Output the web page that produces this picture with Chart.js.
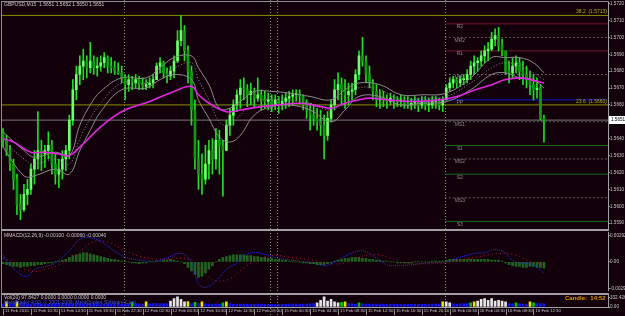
<!DOCTYPE html>
<html>
<head>
<meta charset="utf-8">
<script src="https://cdn.jsdelivr.net/npm/chart.js@4.4.1/dist/chart.umd.min.js"></script>
<style>
  html, body { margin: 0; padding: 0; background: #12000a; }
  #wrap { position: relative; width: 625px; height: 316px; background: #12000a; overflow: hidden; }
  canvas { position: absolute; left: 0; }
</style>
</head>
<body>
<div id="wrap">
  <canvas id="price" width="625" height="231" style="top:0px"></canvas>
  <canvas id="macd" width="625" height="63" style="top:230px"></canvas>
  <canvas id="vol" width="625" height="23" style="top:293px"></canvas>
</div>
<script>
// GBPUSD M15-style bars, one entry per bar (open = previous close)
const highs = [
  1.5646,1.5642,1.5636,1.5628,1.5619,1.5607,1.5613,1.5616,1.5625,1.5633,
  1.5656,1.5639,1.5636,1.5644,1.5639,1.5631,1.5628,1.5633,1.5636,1.5654,
  1.5675,1.5683,1.5689,1.5693,1.5689,1.5697,1.5689,1.5688,1.5689,1.5691,
  1.5689,1.5688,1.5686,1.5685,1.5683,1.5678,1.5678,1.5677,1.5678,1.5677,
  1.5676,1.5675,1.5676,1.5678,1.5685,1.5688,1.5686,1.5682,1.5683,1.5689,
  1.5704,1.5713,1.5707,1.5695,1.5683,1.5663,1.5639,1.5631,1.5636,1.5639,
  1.5640,1.5646,1.5645,1.5639,1.5651,1.5658,1.5663,1.5669,1.5675,1.5676,
  1.5672,1.5673,1.5670,1.5676,1.5669,1.5668,1.5667,1.5666,1.5666,1.5665,
  1.5666,1.5667,1.5668,1.5669,1.5669,1.5669,1.5666,1.5663,1.5661,1.5660,
  1.5658,1.5657,1.5654,1.5656,1.5663,1.5675,1.5679,1.5676,1.5675,1.5673,
  1.5673,1.5681,1.5692,1.5700,1.5689,1.5683,1.5675,1.5672,1.5669,1.5668,
  1.5666,1.5667,1.5666,1.5665,1.5666,1.5665,1.5665,1.5664,1.5665,1.5664,
  1.5665,1.5665,1.5664,1.5665,1.5665,1.5664,1.5665,1.5672,1.5676,1.5677,
  1.5676,1.5677,1.5678,1.5681,1.5686,1.5689,1.5688,1.5692,1.5695,1.5697,
  1.5703,1.5705,1.5706,1.5699,1.5692,1.5686,1.5688,1.5689,1.5688,1.5686,
  1.5683,1.5680,1.5678,1.5676,1.5672,1.5654
];
const lows = [
  1.5635,1.5630,1.5621,1.5610,1.5595,1.5592,1.5597,1.5601,1.5607,1.5613,
  1.5622,1.5621,1.5623,1.5628,1.5619,1.5613,1.5611,1.5616,1.5621,1.5628,
  1.5648,1.5663,1.5672,1.5675,1.5676,1.5679,1.5678,1.5677,1.5680,1.5682,
  1.5679,1.5679,1.5678,1.5678,1.5673,1.5663,1.5668,1.5669,1.5670,1.5669,
  1.5669,1.5669,1.5670,1.5670,1.5675,1.5679,1.5676,1.5673,1.5675,1.5676,
  1.5685,1.5695,1.5686,1.5673,1.5648,1.5622,1.5610,1.5607,1.5613,1.5616,
  1.5619,1.5622,1.5619,1.5606,1.5633,1.5642,1.5648,1.5656,1.5658,1.5663,
  1.5659,1.5660,1.5659,1.5662,1.5657,1.5658,1.5657,1.5656,1.5657,1.5655,
  1.5657,1.5658,1.5659,1.5660,1.5662,1.5661,1.5657,1.5652,1.5645,1.5648,
  1.5645,1.5642,1.5628,1.5639,1.5650,1.5657,1.5663,1.5660,1.5658,1.5660,
  1.5663,1.5666,1.5675,1.5683,1.5673,1.5670,1.5663,1.5659,1.5658,1.5659,
  1.5658,1.5660,1.5658,1.5659,1.5659,1.5658,1.5658,1.5657,1.5658,1.5656,
  1.5658,1.5657,1.5656,1.5658,1.5658,1.5657,1.5656,1.5663,1.5668,1.5670,
  1.5670,1.5671,1.5672,1.5673,1.5675,1.5678,1.5680,1.5683,1.5685,1.5686,
  1.5692,1.5695,1.5692,1.5689,1.5678,1.5673,1.5676,1.5679,1.5675,1.5672,
  1.5670,1.5666,1.5663,1.5664,1.5651,1.5638
];
const closes = [
  1.5639,1.5633,1.5625,1.5616,1.5601,1.5598,1.5607,1.5610,1.5622,1.5628,
  1.5633,1.5631,1.5633,1.5636,1.5625,1.5619,1.5622,1.5628,1.5633,1.5651,
  1.5669,1.5678,1.5683,1.5686,1.5682,1.5686,1.5682,1.5683,1.5685,1.5688,
  1.5683,1.5682,1.5680,1.5679,1.5676,1.5672,1.5675,1.5673,1.5675,1.5672,
  1.5671,1.5672,1.5673,1.5675,1.5683,1.5685,1.5679,1.5677,1.5680,1.5686,
  1.5698,1.5704,1.5692,1.5680,1.5657,1.5628,1.5619,1.5616,1.5625,1.5633,
  1.5628,1.5639,1.5636,1.5633,1.5648,1.5654,1.5660,1.5666,1.5670,1.5669,
  1.5666,1.5668,1.5664,1.5666,1.5663,1.5662,1.5663,1.5660,1.5663,1.5660,
  1.5662,1.5664,1.5665,1.5666,1.5666,1.5665,1.5660,1.5657,1.5654,1.5652,
  1.5650,1.5648,1.5642,1.5652,1.5660,1.5669,1.5672,1.5669,1.5666,1.5668,
  1.5669,1.5678,1.5689,1.5686,1.5678,1.5673,1.5668,1.5663,1.5664,1.5663,
  1.5662,1.5664,1.5663,1.5662,1.5663,1.5661,1.5660,1.5661,1.5662,1.5660,
  1.5662,1.5660,1.5660,1.5662,1.5662,1.5660,1.5663,1.5670,1.5673,1.5675,
  1.5673,1.5675,1.5675,1.5678,1.5683,1.5685,1.5686,1.5689,1.5692,1.5693,
  1.5699,1.5701,1.5695,1.5692,1.5680,1.5679,1.5683,1.5685,1.5680,1.5678,
  1.5675,1.5672,1.5669,1.5670,1.5652,1.5651
];
const firstOpen = 1.5644;
const lastPrice = 1.5651;

// slow MA (magenta) and envelope (gray), bar index -> price
const maIdx = [0,3,8,12,16,19,22,28,34,42,49,54,56,59,64,68,74,79,85,91,94,98,102,105,110,117,125,130,134,140,144,148,151,155];
const maVals = [1.5640,1.5638,1.5632,1.5632,1.5631,1.5630,1.5635,1.5647,1.5656,1.5662,1.5668,1.5671,1.5666,1.5661,1.5656,1.5657,1.5659,1.5660,1.5661,1.5659,
  1.5658,1.5661,1.5663,1.5664,1.5663,1.5662,1.5663,1.5665,1.5668,1.5672,1.5675,1.5676,1.5675,1.5673];
const bandIdx = [0,6,9,15,19,22,25,28,34,41,45,49,54,56,59,62,65,68,72,77,82,88,94,98,102,108,114,120,127,134,140,144,148,152,155];
const bandUp = [1.5644,1.5633,1.5629,1.5632,1.5630,1.5648,1.5660,1.5668,1.5676,1.5676,1.5682,1.5688,1.5689,1.5682,1.5672,1.5658,1.5658,1.5662,1.5668,1.5668,
  1.5667,1.5665,1.5663,1.5669,1.5673,1.5672,1.5666,1.5666,1.5667,1.5676,1.5688,1.5688,1.5688,1.5685,1.5679];
const bandMid = [1.5639,1.5628,1.5625,1.5628,1.5625,1.5640,1.5652,1.5661,1.5673,1.5673,1.5679,1.5682,1.5685,1.5675,1.5663,1.5650,1.5648,1.5654,1.5662,1.5663,
  1.5663,1.5661,1.5657,1.5663,1.5670,1.5669,1.5663,1.5664,1.5665,1.5673,1.5682,1.5685,1.5683,1.5679,1.5675];
const bandLow = [1.5635,1.5618,1.5618,1.5622,1.5619,1.5633,1.5645,1.5656,1.5669,1.5670,1.5675,1.5678,1.5675,1.5663,1.5652,1.5641,1.5638,1.5642,1.5654,1.5659,
  1.5660,1.5657,1.5650,1.5657,1.5665,1.5665,1.5660,1.5661,1.5662,1.5669,1.5678,1.5679,1.5676,1.5675,1.5670];

// pivots for 16 Feb, fibo levels
const pivotNames = ['R2','MR2','R1','MR1','PP','MS1','S1','MS2','S2','MS3','S3'];
const pivotVals = [1.5708,1.5700,1.5692,1.5678,1.5663,1.5650,1.5636,1.5628,1.5619,1.5605,1.5591];
const fibNames = ['38.2','23.6'];
const fibVals = [1.5713,1.5660];
const priceTicks = [1.5720,1.5710,1.5700,1.5690,1.5680,1.5670,1.5660,1.5650,1.5640,1.5630,1.5620,1.5610,1.5600,1.5590];

// MACD panel
const macdHist = [
  -0.0002,-0.0003,-0.0004,-0.0005,-0.0005,-0.0006,-0.0005,-0.0005,-0.0004,-0.0004,-0.0003,-0.0003,
  -0.0002,-0.0001,-0.0001,0,0.0001,0.0002,
  0.0003,0.0005,0.0007,0.0008,0.0009,0.0010,0.0010,0.0009,0.0008,0.0007,0.0006,
  0.0005,0.0004,0.0003,0.0003,0.0002,0.0001,
  0.0001,0,-0.0001,-0.0001,-0.0002,-0.0001,-0.0001,0,0,0.0001,0.0001,0.0002,0.0002,0.0003,
  0.0002,0.0001,0,-0.0002,-0.0006,-0.0010,-0.0014,-0.0017,
  -0.0016,-0.0012,-0.0008,
  -0.0004,0,0.0003,0.0005,0.0006,0.0007,0.0008,0.0008,
  0.0008,0.0008,0.0007,0.0007,0.0006,0.0006,0.0005,0.0005,0.0004,0.0004,0.0003,0.0003,0.0002,
  0.0002,0.0001,0.0001,0,0,-0.0001,-0.0001,-0.0002,-0.0002,-0.0003,-0.0003,-0.0003,-0.0002,-0.0001,
  0.0001,0.0002,0.0003,0.0004,0.0004,0.0005,0.0005,0.0005,0.0004,0.0004,0.0003,0.0003,0.0002,0.0002,0.0001,0.0001,0,0,-0.0001,-0.0001,-0.0001,
  -0.0001,-0.0001,0,0,0,0,0,0.0001,0.0001,0.0001,0.0001,
  0.0002,0.0003,0.0003,0.0003,0.0003,0.0003,0.0003,0.0003,0.0003,0.0003,0.0003,0.0003,0.0003,0.0002,0.0002,0.0002,0.0001,
  -0.0001,-0.0003,-0.0004,-0.0005,-0.0005,-0.0006,-0.0006,-0.0005,-0.0005,-0.0006,-0.0006,-0.0007
];
const macdIdx = [0,2,5,7,9,14,16,19,22,24,28,31,34,36,42,46,51,54,55,56,58,61,64,67,69,72,75,79,85,89,92,94,97,99,102,104,107,110,112,117,122,127,130,132,135,138,141,144,145,147,150,152,155];
const macdVals = [0.00073,-0.00031,-0.00136,-0.00156,-0.00083,-0.00031,0.00021,0.00125,0.00250,0.00271,0.00229,0.00146,0.00073,0.00042,0.00010,0.00031,0.00094,0,-0.00136,-0.00240,
  -0.00282,-0.00209,-0.00083,-0.00010,0.00073,0.00104,0.00083,0.00042,0.00010,-0.00010,-0.00042,-0.00021,0.00042,0.00083,0.00125,0.00115,0.00042,-0.00031,-0.00042,-0.00031,
  -0.00010,0,0.00042,0.00063,0.00094,0.00104,0.00136,0.00104,0.00052,0,-0.00021,-0.00031,-0.00125];
const sigIdx = [0,3,8,12,16,21,25,29,34,39,45,51,55,58,61,65,69,74,78,82,88,94,98,102,107,111,115,121,127,131,137,142,147,151,155];
const sigVals = [0.00042,0,-0.00104,-0.00083,-0.00031,0.00073,0.00209,0.00229,0.00146,0.00063,0.00031,0.00042,0,-0.00136,-0.00209,-0.00188,-0.00063,0.00042,0.00073,0.00052,
  0.00021,-0.00021,-0.00010,0.00052,0.00083,0.00042,-0.00010,-0.00021,-0.00010,0.00021,0.00063,0.00094,0.00073,0.00010,-0.00031];
const macdTicks = [0.00292, 0, -0.00292];

// volume panel
const volumes = [
  105,180,114,108,180,120,114,105,111,120,
  126,114,105,108,102,114,120,126,114,108,
  120,126,114,108,105,102,108,114,105,102,
  99,105,108,102,96,105,114,165,120,114,
  108,180,114,120,126,114,120,126,210,300,
  360,270,180,195,126,165,120,180,114,108,
  105,102,108,150,180,114,105,102,99,105,
  102,99,96,102,105,99,96,93,90,96,
  102,99,105,108,102,99,105,108,114,120,
  150,240,360,210,270,180,150,165,180,120,
  114,108,150,114,108,105,102,99,105,102,
  99,96,102,99,96,93,99,96,102,99,
  96,102,99,105,102,108,180,180,150,114,
  108,114,120,126,150,180,210,270,300,240,
  300,210,240,210,180,120,114,150,114,108,
  114,180,150,120,126,114
];
const volWhite = [48,49,50,51,52,90,91,92,93,94,95,96,127,128,136,137,138,139,140,141,142,143,144];
const volYellow = [1,4,41,53,57,64,98,126,135,151];
const volGreen = [37,55,63,97,102,134,147,152];
const volTicks = [332.426, 0];

const timeTickIdx = [0,8,16,24,32,40,48,56,64,72,80,88,96,104,112,120,128,136,144,152];
const timeLabels = ['11 Feb 2010','11 Feb 10:30','11 Feb 14:30','11 Feb 18:30','11 Feb 22:30','12 Feb 02:30','12 Feb 06:30',
  '12 Feb 10:30','12 Feb 14:30','12 Feb 18:30','15 Feb 00:30','15 Feb 04:30','15 Feb 08:30','15 Feb 12:30','15 Feb 16:30',
  '15 Feb 20:30','16 Feb 00:30','16 Feb 04:30','16 Feb 08:30','16 Feb 12:30'];
const dayLines = [34.6, 76.5, 78.5, 126.6];
const pivotStart = 126.6;
const ppStart = 116.6;

const X_MIN = -0.29, X_MAX = 173.35;
const FONT = 'Liberation Sans';
const AXIS_W = 17;
const GRAY = '#a0a0a0';
const TXT = '#c8c8c8';

Chart.defaults.font.family = FONT;
Chart.defaults.animation = false;

function xScale() {
  return { type: 'linear', min: X_MIN, max: X_MAX, display: false, offset: false };
}
function rightAxis(min, max, ticks, fmt) {
  return {
    position: 'right', min: min, max: max,
    afterFit: s => { s.width = AXIS_W; },
    afterBuildTicks: s => { s.ticks = ticks.map(v => ({ value: v })); },
    ticks: { color: TXT, font: { size: 4.6 }, padding: 0, callback: fmt },
    grid: { drawOnChartArea: false, tickLength: 2, color: GRAY },
    border: { color: GRAY }
  };
}
function pts(idx, vals) {
  return idx.map((x, k) => ({ x: x, y: vals[k] }));
}
function hline(v, x0, color, dash) {
  return { type: 'line', data: [{ x: x0, y: v }, { x: X_MAX, y: v }], borderColor: color, borderWidth: 1,
    borderDash: dash || [], pointRadius: 0, order: 10 };
}
function smooth(idx, vals, color, width, dash) {
  return { type: 'line', data: pts(idx, vals), borderColor: color, borderWidth: width, borderDash: dash || [],
    pointRadius: 0, tension: 0.4, order: 1 };
}

const dayLinePlugin = {
  id: 'dayLines',
  beforeDatasetsDraw(chart) {
    const ctx = chart.ctx, xs = chart.scales.x;
    ctx.save();
    ctx.strokeStyle = '#8a8a8a';
    ctx.setLineDash([1, 2]);
    ctx.lineWidth = 1;
    dayLines.forEach(v => {
      const x = Math.round(xs.getPixelForValue(v)) + 0.5;
      ctx.beginPath();
      ctx.moveTo(x, 0);
      ctx.lineTo(x, chart.height);
      ctx.stroke();
    });
    ctx.restore();
  }
};

// ---------- price panel ----------
const opens = closes.map((c, i) => i === 0 ? firstOpen : closes[i - 1]);
const wickData = highs.map((h, i) => ({ x: i, y: [lows[i], h] }));
const bodyData = closes.map((c, i) => ({ x: i, y: [opens[i], c] }));
const bodyColors = closes.map((c, i) => c >= opens[i] ? '#6cff6c' : '#0c9c0c');

const pivotDatasets = pivotNames.map((n, k) => {
  const v = pivotVals[k];
  if (n === 'PP') return hline(v, ppStart, '#1414d2');
  if (n.startsWith('M')) return hline(v, pivotStart, '#5e5e5e', [2, 2]);
  if (n.startsWith('R')) return hline(v, pivotStart, '#781028');
  return hline(v, pivotStart, '#186c18');
});

const priceTextPlugin = {
  id: 'priceText',
  afterDraw(chart) {
    const ctx = chart.ctx, xs = chart.scales.x, ys = chart.scales.y;
    ctx.save();
    // frame
    ctx.fillStyle = '#8c8c8c';
    ctx.fillRect(1, 1, 608, 1);
    ctx.fillRect(1, 1, 1, 230);
    ctx.fillStyle = GRAY;
    ctx.fillRect(1, 229, 608, 2);
    ctx.font = '5px ' + FONT;
    ctx.textBaseline = 'middle';
    ctx.fillStyle = TXT;
    ctx.textAlign = 'left';
    ctx.fillText('GBPUSD,M15  1.5651 1.5652 1.5650 1.5651', 4, 5);
    // pivot labels
    ctx.fillStyle = '#8a8a8a';
    ctx.textAlign = 'center';
    const lx = xs.getPixelForValue(pivotStart) + 15;
    pivotNames.forEach((n, k) => {
      ctx.fillText(n, lx, ys.getPixelForValue(pivotVals[k]) + 3);
    });
    // fibo labels
    ctx.fillStyle = '#b4b400';
    ctx.textBaseline = 'bottom';
    fibNames.forEach((n, k) => {
      const y = ys.getPixelForValue(fibVals[k]) - 1;
      ctx.textAlign = 'left';
      ctx.fillText(n, 576, y);
      ctx.textAlign = 'right';
      ctx.fillText('(' + fibVals[k].toFixed(4) + ')', 607, y);
    });
    // last price box
    const py = Math.round(ys.getPixelForValue(lastPrice));
    ctx.fillStyle = '#ffffff';
    ctx.fillRect(609, py - 4, 16, 8);
    ctx.fillStyle = '#000000';
    ctx.textAlign = 'left';
    ctx.textBaseline = 'middle';
    ctx.font = '4.6px ' + FONT;
    ctx.fillText(lastPrice.toFixed(4), 611, py);
    ctx.restore();
  }
};

new Chart(document.getElementById('price'), {
  type: 'bar',
  data: {
    datasets: [
      smooth(maIdx, maVals, '#e028e0', 1.6),
      smooth(bandIdx, bandUp, '#8c8c8c', 1),
      smooth(bandIdx, bandMid, '#8c8c8c', 1, [1, 2]),
      smooth(bandIdx, bandLow, '#8c8c8c', 1),
      { type: 'bar', data: bodyData, backgroundColor: bodyColors, barThickness: 2, minBarLength: 1, grouped: false, order: 4 },
      { type: 'bar', data: wickData, backgroundColor: '#1ee01e', barThickness: 1, grouped: false, order: 5 },
      hline(lastPrice, X_MIN, '#7c7c7c'),
      hline(fibVals[0], X_MIN, '#8c8c00'),
      hline(fibVals[1], X_MIN, '#8c8c00'),
      ...pivotDatasets
    ]
  },
  options: {
    responsive: false,
    events: [],
    layout: { padding: { left: 2, top: 2, bottom: 2, right: 0 } },
    plugins: { legend: { display: false }, tooltip: { enabled: false } },
    scales: {
      x: xScale(),
      y: rightAxis(1.558697, 1.57205, priceTicks, v => v.toFixed(4))
    }
  },
  plugins: [dayLinePlugin, priceTextPlugin]
});

// ---------- MACD panel ----------
const macdTextPlugin = {
  id: 'macdText',
  afterDraw(chart) {
    const ctx = chart.ctx;
    ctx.save();
    ctx.fillStyle = '#8c8c8c';
    ctx.fillRect(1, 0, 1, 63);
    ctx.font = '5px ' + FONT;
    ctx.fillStyle = TXT;
    ctx.textBaseline = 'middle';
    ctx.fillText('MMACD(12,26,9) -0.00100 -0.00060 -0.00040', 4, 6);
    ctx.restore();
  }
};

new Chart(document.getElementById('macd'), {
  type: 'bar',
  data: {
    datasets: [
      { type: 'line', data: pts(macdIdx, macdVals), borderColor: '#2832ff', borderWidth: 1, borderDash: [1, 1],
        pointRadius: 0, tension: 0.4, order: 1 },
      { type: 'line', data: pts(sigIdx, sigVals), borderColor: '#c0103c', borderWidth: 1, borderDash: [1, 3],
        pointRadius: 0, tension: 0.4, order: 2 },
      { type: 'bar', data: macdHist.map((v, i) => ({ x: i, y: v })), backgroundColor: '#1e641e', barThickness: 2, order: 3 }
    ]
  },
  options: {
    responsive: false,
    events: [],
    layout: { padding: { left: 2, top: 1, bottom: 1, right: 0 } },
    plugins: { legend: { display: false }, tooltip: { enabled: false } },
    scales: {
      x: xScale(),
      y: rightAxis(-0.00313, 0.00323, macdTicks, v => v === 0 ? '0.00' : v.toFixed(5))
    }
  },
  plugins: [dayLinePlugin, macdTextPlugin]
});

// ---------- volume panel + time axis ----------
const volColors = volumes.map((v, i) =>
  volWhite.includes(i) ? '#e6e6e6' : volYellow.includes(i) ? '#e6e600' : volGreen.includes(i) ? '#00c800' : '#1414f0');

const volTextPlugin = {
  id: 'volText',
  afterDraw(chart) {
    const ctx = chart.ctx, xs = chart.scales.x;
    ctx.save();
    ctx.fillStyle = GRAY;
    ctx.fillRect(1, 0, 608, 2);
    ctx.fillStyle = '#8c8c8c';
    ctx.fillRect(1, 0, 1, 15);
    // tick marks of the time axis
    ctx.fillStyle = '#909090';
    timeTickIdx.forEach(v => {
      ctx.fillRect(Math.round(xs.getPixelForValue(v)), 16, 1, 6);
    });
    ctx.font = '5px ' + FONT;
    ctx.textBaseline = 'middle';
    ctx.fillStyle = TXT;
    ctx.fillText('Vol(20) 97.8427 0.0000 0.0000 0.0000 0.0000', 4, 5);
    ctx.fillStyle = '#3c50ff';
    ctx.fillText('MetaTrader 4.00  \u00a9 2001-2009, MetaQuotes Software Corp.', 4, 10);
    ctx.font = 'bold 6px ' + FONT;
    ctx.fillStyle = '#e69a00';
    ctx.fillText('Candle:  14:52', 565, 5);
    ctx.restore();
  }
};

new Chart(document.getElementById('vol'), {
  type: 'bar',
  data: {
    datasets: [
      { type: 'bar', data: volumes.map((v, i) => ({ x: i, y: v })), backgroundColor: volColors, barThickness: 2 }
    ]
  },
  options: {
    responsive: false,
    events: [],
    layout: { padding: { left: 2, top: 1, bottom: 0, right: 0 } },
    plugins: { legend: { display: false }, tooltip: { enabled: false } },
    scales: {
      x: {
        type: 'linear', min: X_MIN, max: X_MAX, position: 'bottom', offset: false,
        afterFit: s => { s.height = 9; },
        afterBuildTicks: s => { s.ticks = timeTickIdx.map(v => ({ value: v })); },
        ticks: { autoSkip: false, maxRotation: 0, minRotation: 0, align: 'start', labelOffset: 2, padding: 1,
          color: TXT, font: { size: 4.3 }, callback: (v, i) => timeLabels[i] },
        grid: { drawOnChartArea: false, drawTicks: false },
        border: { color: GRAY }
      },
      y: rightAxis(0, 400, volTicks, v => v === 0 ? '0.00' : v.toFixed(3))
    }
  },
  plugins: [dayLinePlugin, volTextPlugin]
});
</script>
</body>
</html>
